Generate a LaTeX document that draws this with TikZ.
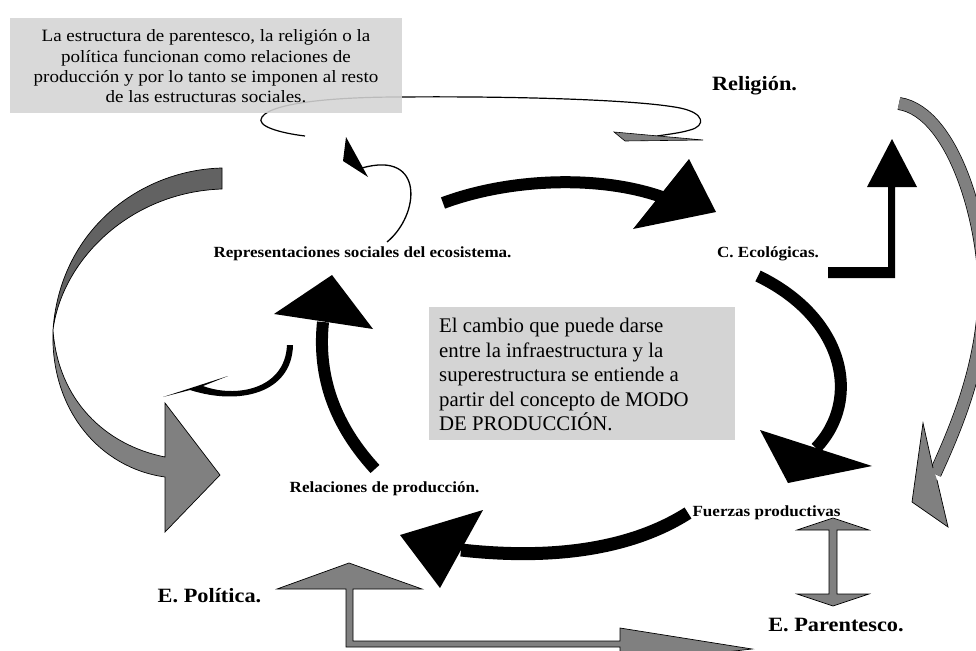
\documentclass[tikz,border=0pt]{standalone}
\usepackage{fontspec}
\setmainfont[FakeStretch=1.1]{Liberation Serif}
\newfontfamily\plainserif{Liberation Serif}
\definecolor{arrgray}{HTML}{808080}
\definecolor{darkrib}{HTML}{626262}
\definecolor{boxgray}{HTML}{D4D4D4}
\tikzset{
  blkband/.style={line width=12, black},
  blkhead/.style={fill=black},
  gfill/.style={fill=arrgray, draw=black, line width=0.7, line join=miter},
  lbl/.style={font=\bfseries\fontsize{15.5}{17}\selectfont, inner sep=0, anchor=base},
  biglbl/.style={font=\bfseries\fontsize{20.3}{22}\selectfont, inner sep=0, anchor=base},
  boxst/.style={fill=boxgray, draw=none, inner sep=0},
}
\begin{document}
\begin{tikzpicture}[x=1pt,y=-1pt]
\useasboundingbox (0,0) rectangle (976,650);
\clip (0,0) rectangle (976,650);

% thin loop arrow (behind the top box)
\draw[line width=1.2] (305,136) .. controls (280,133) and (255,126) .. (262,117)
  .. controls (272,102) and (340,97) .. (400,97)
  .. controls (520,96) and (640,100) .. (680,108)
  .. controls (705,113) and (706,126) .. (690,130)
  .. controls (680,133) and (670,134) .. (657,136);
\draw[fill=arrgray, draw=black, line width=0.6] (614,132) -- (703,140) -- (625,141) -- cycle;

% top text box
\node[boxst, minimum width=392, minimum height=95, fill opacity=0.88] (topbox) at (206,65.5) {};
\node[inner sep=0, anchor=north, align=center, font=\fontsize{17.3}{20.4}\selectfont] (toptext) at (206,29.5)
 {La estructura de parentesco, la religión o la\\
  política funcionan como relaciones de\\
  producción y por lo tanto se imponen al resto\\
  de las estructuras sociales.};

% middle text box
\node[boxst, minimum width=306, minimum height=133] (midbox) at (582,373.5) {};
\node[inner sep=0, anchor=north west, align=left, font=\plainserif\fontsize{20.8}{24.5}\selectfont] (midtext) at (439,318)
 {El cambio que puede darse\\
  entre la infraestructura y la\\
  superestructura se entiende a\\
  partir del concepto de MODO\\
  DE PRODUCCIÓN.};

% labels
\node[biglbl] (rel) at (754.5,91) {Religión.};
\node[lbl] (eco) at (768,257) {C. Ecológicas.};
\node[lbl] (rep) at (362.5,257) {Representaciones sociales del ecosistema.};
\node[lbl] (relp) at (384.5,492) {Relaciones de producción.};
\node[lbl] (fue) at (766.5,516) {Fuerzas productivas};
\node[biglbl] (par) at (836,631) {E. Parentesco.};
\node[biglbl] (pol) at (209.5,602) {E. Política.};

% thin curved arrow near Representaciones
\draw[line width=1.3] (387,242) .. controls (420,215) and (425,150) .. (362,168);
\fill[blkhead] (346,137) -- (368,177) -- (343,161) -- cycle;

% top black arrow: Representaciones -> C. Ecologicas
\draw[blkband] (443,203) .. controls (510,178) and (600,175) .. (662,197);
\fill[blkhead] (689,159) -- (716,212) -- (633,229) -- cycle;

% right black arrow: C. Ecologicas -> Fuerzas productivas
\draw[blkband] (758,276) .. controls (845,318) and (862,400) .. (816,448);
\fill[blkhead] (760,430) -- (872,466) -- (788,483) -- cycle;

% bottom black arrow: Fuerzas -> Relaciones
\draw[line width=13] (688,513) .. controls (630,550) and (550,560) .. (461,550);
\fill[blkhead] (483,510) -- (400,535) -- (440,588) -- cycle;

% left black arrow: Relaciones -> Representaciones
\draw[blkband] (375,469) .. controls (330,420) and (318,370) .. (323,322);
\fill[blkhead] (332,275) -- (373,329) -- (274,314) -- cycle;

% small black swoosh arrow
\fill[black] (163,397) -- (228,376) -- (203,386)
  .. controls (235,398) and (285,390) .. (287,345) -- (293,345)
  .. controls (292,393) and (240,406) .. (190,390) -- cycle;

% L-shaped black arrow to Religion
\fill[black] (828,267) -- (888,267) -- (888,187) -- (867,187) -- (892,139)
  -- (917,187) -- (895,187) -- (895,278) -- (828,278) -- cycle;

% left gray ribbon arrow
\filldraw[fill=darkrib, draw=black, line width=0.7]
  (222,168) .. controls (140,170) and (60,230) .. (53,330)
  .. controls (62,260) and (130,192) .. (222,189) -- cycle;
\filldraw[gfill]
  (53,330) .. controls (58,400) and (105,445) .. (165,457)
  -- (165,403) -- (220,475) -- (165,532) -- (165,477)
  .. controls (100,468) and (50,410) .. (53,330) -- cycle;

% right gray arc arrow
\draw[line width=0.7, double=arrgray, double distance=11.5]
  (899,103.5) .. controls (955,112) and (987,230) .. (984,300)
  .. controls (981,370) and (955,430) .. (935,474);
\fill[arrgray] (923,423) -- (933,468) -- (937,480) -- (948,527) -- (912,502) -- cycle;
\draw[line width=0.7, line join=miter] (937,480) -- (948,527) -- (912,502) -- (923,423) -- (933,468);

% gray double vertical arrow Fuerzas <-> Parentesco
\filldraw[gfill] (833,518) -- (869,530) -- (837,530) -- (837,594) -- (869,594)
  -- (833,606) -- (797,594) -- (829,594) -- (829,530) -- (797,530) -- cycle;

% gray elbow arrow Politica / Parentesco
\filldraw[gfill] (277,589) -- (349,563) -- (422,589) -- (353,589) -- (353,641)
  -- (620,641) -- (620,628) -- (752,649) -- (620,664) -- (620,647)
  -- (346,647) -- (346,589) -- cycle;
\end{tikzpicture}
\end{document}
